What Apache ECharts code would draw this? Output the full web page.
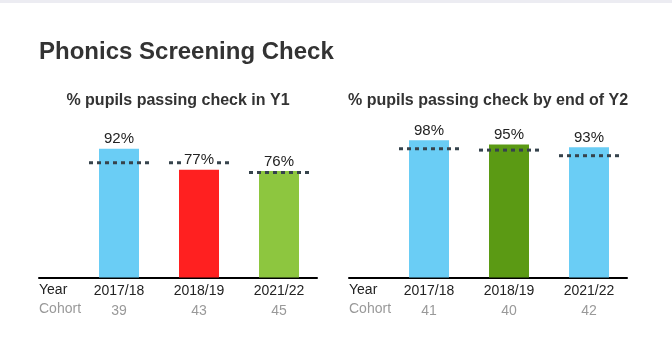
<!DOCTYPE html>
<html>
<head>
<meta charset="utf-8">
<script src="https://cdn.jsdelivr.net/npm/echarts@6/dist/echarts.min.js"></script>
<style>html,body{margin:0;padding:0;background:#fff;}#c{width:672px;height:340px;}</style>
</head>
<body>
<div id="c"></div>
<script>
const years = ['2017/18', '2018/19', '2021/22'];
const y1Cohort = [39, 43, 45];
const y1Pass = [92, 77, 76];
const y1National = [82, 82, 75];
const y1Colors = ['#6acdf5', '#ff2020', '#8dc63f'];
const y2Cohort = [41, 40, 42];
const y2Pass = [98, 95, 93];
const y2National = [92, 91, 87];
const y2Colors = ['#6acdf5', '#5b9a14', '#6acdf5'];

const FONT = 'Liberation Sans, Arial, sans-serif';
const chart = echarts.init(document.getElementById('c'), null, {renderer: 'canvas'});

function xAxisFor(gi, cohort) {
  return {
    type: 'value', gridIndex: gi, min: 0, max: 3.475, interval: 1,
    axisLine: {show: true, onZero: false, lineStyle: {color: '#000', width: 2}},
    axisTick: {show: false}, splitLine: {show: false},
    axisLabel: {
      margin: 4, showMaxLabel: false, showMinLabel: true,
      formatter: function (v) {
        const i = Math.round(v) - 1;
        if (i < 0 || i > 2 || Math.abs(v - Math.round(v)) > 1e-6) return '';
        return '{y|' + years[i] + '}\n{c|' + cohort[i] + '}';
      },
      rich: {
        y: {fontSize: 14, color: '#222', lineHeight: 20, fontFamily: FONT},
        c: {fontSize: 14, color: '#999', lineHeight: 20, fontFamily: FONT}
      }
    }
  };
}
function yAxisFor(gi) {
  return {type: 'value', gridIndex: gi, min: 0, max: 100, show: false};
}
function barSeries(gi, vals, colors) {
  return {
    type: 'bar', xAxisIndex: gi, yAxisIndex: gi, barWidth: 40, z: 2,
    data: vals.map((v, i) => ({value: [i + 1, v], itemStyle: {color: colors[i]}}))
  };
}
function labelSeries(gi, vals) {
  return {
    type: 'bar', xAxisIndex: gi, yAxisIndex: gi, barWidth: 40, barGap: '-100%', z: 5,
    silent: true,
    itemStyle: {color: 'rgba(0,0,0,0)'},
    data: vals.map((v, i) => [i + 1, v]),
    label: {
      show: true, position: 'top', distance: 1,
      formatter: p => p.value[1] + '%',
      fontSize: 15, color: '#222', fontFamily: FONT,
      backgroundColor: '#fff', padding: [1, 3]
    }
  };
}
function natSeries(gi, vals) {
  return {
    type: 'custom', xAxisIndex: gi, yAxisIndex: gi, z: 3,
    data: vals.map((v, i) => [i + 1, v]),
    renderItem: function (params, api) {
      const x = api.value(0), y = api.value(1);
      const p1 = api.coord([x - 0.375, y]);
      const p2 = api.coord([x + 0.375, y]);
      return {
        type: 'line',
        shape: {x1: p1[0], y1: p1[1], x2: p2[0], y2: p2[1]},
        style: {stroke: '#36434c', lineWidth: 3, lineDash: [4, 4]}
      };
    }
  };
}

const option = {
  animation: false,
  backgroundColor: '#fff',
  title: [
    {text: 'Phonics Screening Check', left: 34, top: 35,
     textStyle: {fontSize: 24, fontWeight: 'bold', color: '#333', fontFamily: FONT}},
    {text: '% pupils passing check in Y1', left: 173, top: 88, textAlign: 'center',
     textStyle: {fontSize: 16, fontWeight: 'bold', color: '#333', fontFamily: FONT}},
    {text: '% pupils passing check by end of Y2', left: 483, top: 88, textAlign: 'center',
     textStyle: {fontSize: 16, fontWeight: 'bold', color: '#333', fontFamily: FONT}}
  ],
  grid: [
    {left: 39, width: 278, top: 137.5, height: 140},
    {left: 349, width: 278, top: 137.5, height: 140}
  ],
  xAxis: [xAxisFor(0, y1Cohort), xAxisFor(1, y2Cohort)],
  yAxis: [yAxisFor(0), yAxisFor(1)],
  series: [
    barSeries(0, y1Pass, y1Colors), natSeries(0, y1National), labelSeries(0, y1Pass),
    barSeries(1, y2Pass, y2Colors), natSeries(1, y2National), labelSeries(1, y2Pass)
  ],
  graphic: [
    {type: 'rect', left: 0, top: 0, shape: {width: 672, height: 3}, style: {fill: '#ececf2'}},
    {type: 'text', left: 39, top: 283, style: {text: 'Year', fontSize: 14, fill: '#222', fontFamily: FONT}},
    {type: 'text', left: 39, top: 302, style: {text: 'Cohort', fontSize: 14, fill: '#999', fontFamily: FONT}},
    {type: 'text', left: 349, top: 283, style: {text: 'Year', fontSize: 14, fill: '#222', fontFamily: FONT}},
    {type: 'text', left: 349, top: 302, style: {text: 'Cohort', fontSize: 14, fill: '#999', fontFamily: FONT}}
  ]
};
chart.setOption(option);
</script>
</body>
</html>
